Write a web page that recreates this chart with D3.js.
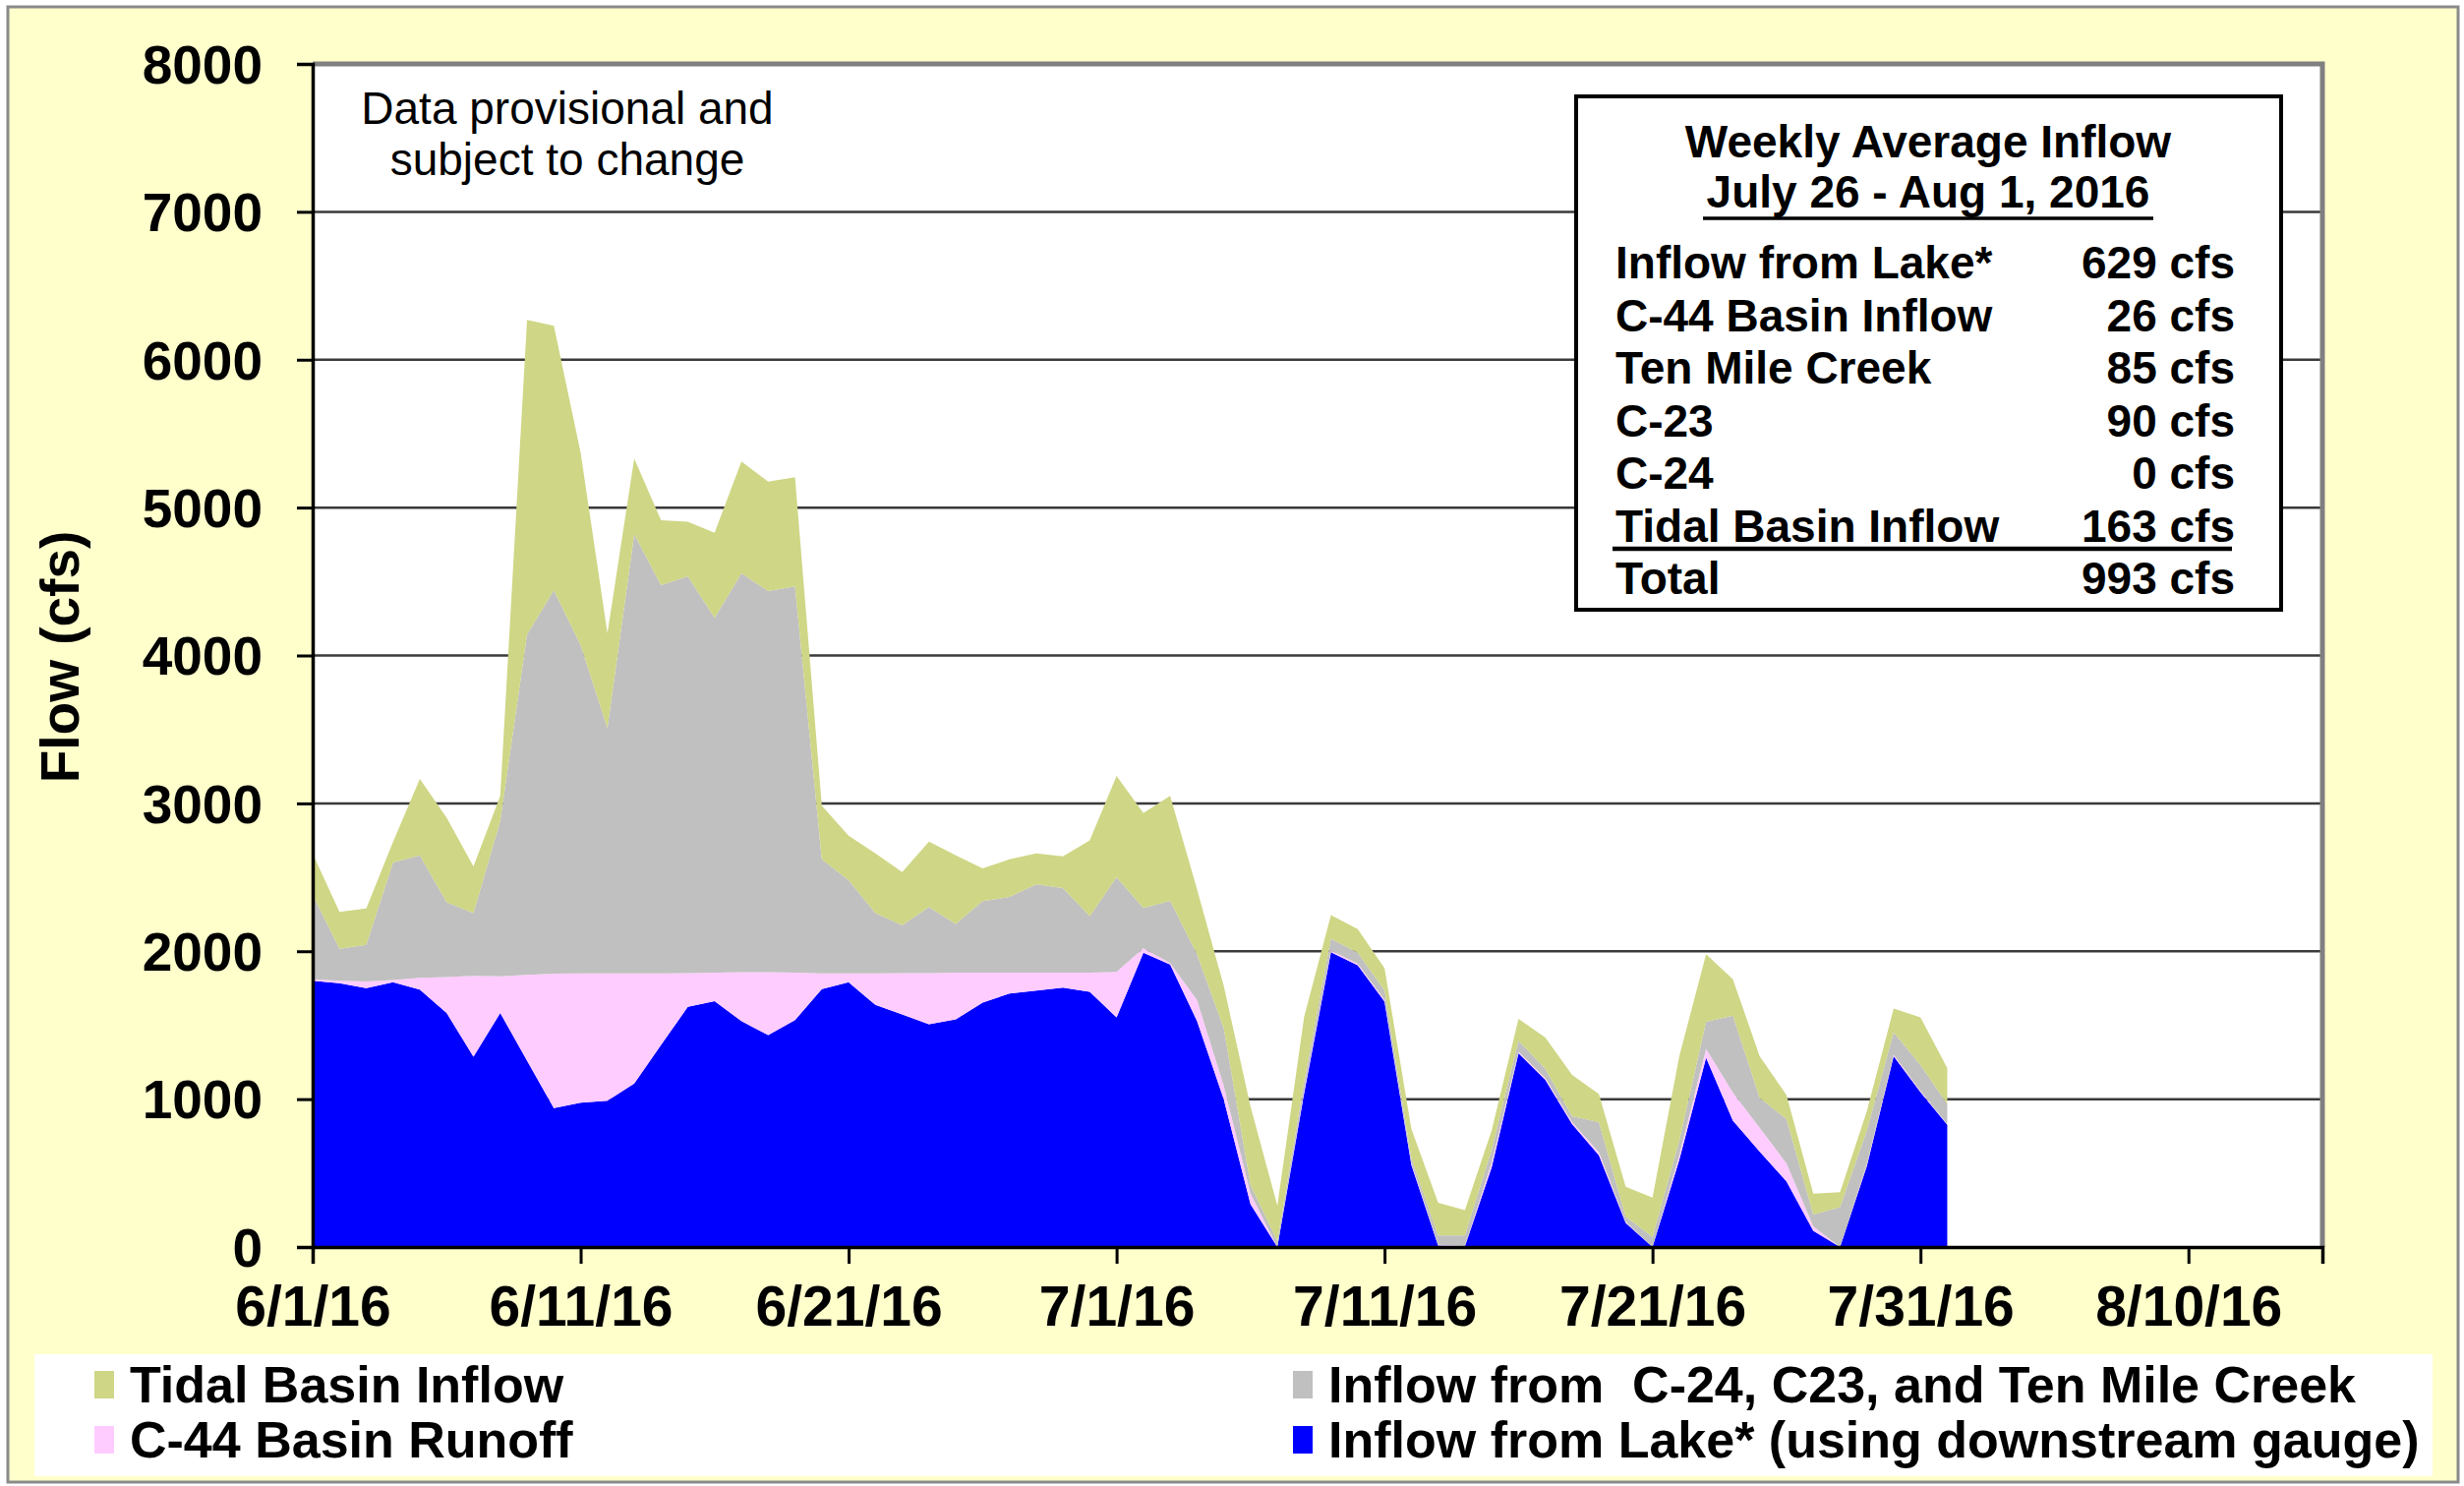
<!DOCTYPE html>
<html>
<head>
<meta charset="utf-8">
<script src="https://cdn.jsdelivr.net/npm/d3@7"></script>
<style>
  html, body { margin: 0; padding: 0; background: #ffffff; }
  svg { display: block; }
  text { font-family: "Liberation Sans", Arial, sans-serif; }
</style>
</head>
<body>
<svg id="chart" width="2506" height="1511"></svg>
<script>
// ---------------- DATA ----------------
const startDate = "2016-06-01";   // first daily value (6/1/16); one value per day through 8/1/16
const axisStart = "2016-06-01";
const axisEnd = "2016-08-15";
const xTickLabels = ["6/1/16", "6/11/16", "6/21/16", "7/1/16", "7/11/16", "7/21/16", "7/31/16", "8/10/16"];
const yTicks = [0, 1000, 2000, 3000, 4000, 5000, 6000, 7000, 8000];

// Inflow from Lake* (using downstream gauge), cfs
const lakeInflow = [1800, 1784, 1751, 1790, 1740, 1583, 1287, 1583, 1260, 940,
  976, 990, 1105, 1366, 1624, 1663, 1528, 1433, 1535, 1744,
  1790, 1637, 1573, 1506, 1540, 1653, 1714, 1734, 1754, 1726,
  1552, 1990, 1910, 1530, 1000, 290, 0, 1040, 1994, 1905,
  1660, 557, 10, 5, 540, 1310, 1130, 832, 620, 163,
  0, 590, 1280, 854, 645, 444, 110, 0, 548, 1290,
  1048, 827];
// C-44 Basin Runoff, cfs
const c44Runoff = [10, 16, 44, 15, 80, 242, 547, 247, 580, 909,
  874, 860, 745, 484, 228, 192, 330, 425, 320, 106,
  60, 213, 279, 346, 315, 202, 141, 121, 101, 129,
  308, 30, 10, 140, 90, 70, 0, 20, 11, 10,
  10, 13, 5, 3, 30, 10, 10, 13, 20, 7,
  0, 30, 60, 190, 161, 121, 30, 0, 12, 10,
  7, 3];
// Inflow from C-24, C23, and Ten Mile Creek, cfs
const otherInflow = [570, 216, 249, 795, 829, 506, 424, 1050, 2302, 2591,
  2220, 1658, 2969, 2626, 2684, 2399, 2698, 2577, 2613, 771,
  630, 408, 325, 448, 330, 484, 512, 597, 572, 383,
  640, 273, 420, 310, 390, 60, 40, 60, 80, 75,
  66, 30, 63, 70, 90, 75, 65, 40, 204, 36,
  68, 100, 183, 521, 202, 302, 80, 270, 230, 152,
  175, 138];
// Tidal Basin Inflow, cfs
const tidalInflow = [280, 250, 246, 140, 516, 572, 315, 170, 2128, 1790,
  1302, 642, 512, 439, 369, 576, 756, 740, 737, 363,
  302, 403, 359, 442, 464, 221, 254, 209, 214, 512,
  685, 642, 710, 440, 285, 530, 240, 436, 160, 160,
  149, 200, 222, 172, 130, 148, 211, 278, 190, 202,
  266, 570, 457, 245, 282, 161, 140, 100, 129, 161,
  322, 242];

const seriesKeys = ["lake", "c44", "other", "tidal"];
const seriesColors = ["#0000FF", "#FFCCFF", "#C0C0C0", "#CFD685"];

const tableTitle = ["Weekly Average Inflow", "July 26 - Aug 1, 2016"];
const tableLabels = ["Inflow from Lake*", "C-44 Basin Inflow", "Ten Mile Creek", "C-23", "C-24", "Tidal Basin Inflow", "Total"];
const tableValues = ["629 cfs", "26 cfs", "85 cfs", "90 cfs", "0 cfs", "163 cfs", "993 cfs"];

const legendItems = [
  { label: "Tidal Basin Inflow", key: "tidal", col: 0, row: 0 },
  { label: "Inflow from  C-24, C23, and Ten Mile Creek", key: "other", col: 1, row: 0 },
  { label: "C-44 Basin Runoff", key: "c44", col: 0, row: 1 },
  { label: "Inflow from Lake* (using downstream gauge)", key: "lake", col: 1, row: 1 }
];

// ---------------- BUILD ----------------
const parse = d3.timeParse("%Y-%m-%d");
const t0 = parse(startDate);
const rows = lakeInflow.map((v, i) => ({
  date: d3.timeDay.offset(t0, i),
  lake: v, c44: c44Runoff[i], other: otherInflow[i], tidal: tidalInflow[i]
}));

const svg = d3.select("#chart");
const W = 2506, H = 1511;
const plot = { left: 318, right: 2362, top: 65, bottom: 1268 };

// outer frame
svg.append("rect").attr("x", 8).attr("y", 7).attr("width", W - 14).attr("height", H - 11)
  .attr("fill", "#FFFFCC").attr("stroke", "#8a8a8a").attr("stroke-width", 3);

// plot background
svg.append("rect").attr("x", plot.left).attr("y", plot.top)
  .attr("width", plot.right - plot.left).attr("height", plot.bottom - plot.top)
  .attr("fill", "#ffffff");

const x = d3.scaleTime().domain([parse(axisStart), parse(axisEnd)]).range([plot.left, plot.right]);
const y = d3.scaleLinear().domain([0, 8000]).range([plot.bottom, plot.top]);

// gridlines
svg.append("g").selectAll("line").data(yTicks.filter(d => d > 0)).join("line")
  .attr("x1", plot.left).attr("x2", plot.right)
  .attr("y1", d => y(d)).attr("y2", d => y(d))
  .attr("stroke", "#3a3a3a").attr("stroke-width", 2.5);

// stacked areas
const stack = d3.stack().keys(seriesKeys).order(d3.stackOrderNone).offset(d3.stackOffsetNone);
const layers = stack(rows);
const area = d3.area().x(d => x(d.data.date)).y0(d => y(d[0])).y1(d => y(d[1])).curve(d3.curveLinear);
svg.append("g").selectAll("path").data(layers).join("path")
  .attr("d", area)
  .attr("fill", (d, i) => seriesColors[i])
  .attr("stroke", "none");

// plot border (top/right shadow style)
svg.append("path")
  .attr("d", `M${plot.left},${plot.top} H${plot.right} V${plot.bottom}`)
  .attr("fill", "none").attr("stroke", "#808080").attr("stroke-width", 5);

// y axis
const yAxis = d3.axisLeft(y).tickValues(yTicks).tickSize(16).tickPadding(35).tickFormat(d3.format("d"));
const gy = svg.append("g").attr("transform", `translate(${plot.left},0)`).call(yAxis);
gy.select(".domain").attr("stroke", "#000").attr("stroke-width", 3.5);
gy.selectAll(".tick line").attr("stroke", "#000").attr("stroke-width", 3);
gy.selectAll(".tick text").attr("font-size", 55).attr("font-weight", "bold")
  .attr("font-family", "'Liberation Sans', Arial, sans-serif").attr("fill", "#000").attr("dy", "0.35em");

// x axis
const xTickDates = xTickLabels.map(s => d3.timeParse("%m/%d/%y")(s));
const xAxis = d3.axisBottom(x).tickValues(xTickDates).tickSize(17).tickPadding(23)
  .tickFormat((d, i) => xTickLabels[i]);
const gx = svg.append("g").attr("transform", `translate(0,${plot.bottom})`).call(xAxis);
gx.select(".domain").attr("stroke", "#000").attr("stroke-width", 3.5);
gx.selectAll(".tick line").attr("stroke", "#000").attr("stroke-width", 3);
gx.selectAll(".tick text").attr("font-size", 57).attr("font-weight", "bold")
  .attr("font-family", "'Liberation Sans', Arial, sans-serif").attr("fill", "#000");

// y axis title
svg.append("text").attr("transform", "translate(61,668) rotate(-90)")
  .attr("text-anchor", "middle").attr("dominant-baseline", "central")
  .attr("font-size", 55).attr("font-weight", "bold").text("Flow (cfs)");

// provisional note
svg.append("g").selectAll("text").data(["Data provisional and", "subject to change"]).join("text")
  .attr("x", 577).attr("y", (d, i) => 110 + i * 52)
  .attr("text-anchor", "middle").attr("dominant-baseline", "central")
  .attr("font-size", 46).text(d => d);

// summary table
const tb = svg.append("g");
tb.append("rect").attr("x", 1603).attr("y", 98).attr("width", 717).attr("height", 522)
  .attr("fill", "#ffffff").attr("stroke", "#000").attr("stroke-width", 4);
tb.selectAll("text.title").data(tableTitle).join("text").attr("class", "title")
  .attr("x", 1961).attr("y", (d, i) => 144 + i * 51)
  .attr("text-anchor", "middle").attr("dominant-baseline", "central")
  .attr("font-size", 46).attr("font-weight", "bold").text(d => d);
tb.append("line").attr("x1", 1732).attr("x2", 2190).attr("y1", 222).attr("y2", 222)
  .attr("stroke", "#000").attr("stroke-width", 3.5);
const rowY = i => 267 + i * 53.5;
tb.selectAll("text.lab").data(tableLabels).join("text").attr("class", "lab")
  .attr("x", 1643).attr("y", (d, i) => rowY(i))
  .attr("dominant-baseline", "central")
  .attr("font-size", 46).attr("font-weight", "bold").text(d => d);
tb.selectAll("text.val").data(tableValues).join("text").attr("class", "val")
  .attr("x", 2273).attr("y", (d, i) => rowY(i))
  .attr("text-anchor", "end").attr("dominant-baseline", "central")
  .attr("font-size", 46).attr("font-weight", "bold").text(d => d);
tb.append("line").attr("x1", 1640).attr("x2", 2270).attr("y1", 558).attr("y2", 558)
  .attr("stroke", "#000").attr("stroke-width", 4.5);

// legend
const lg = svg.append("g");
lg.append("rect").attr("x", 35).attr("y", 1377).attr("width", 2439).attr("height", 124).attr("fill", "#ffffff");
const colX = [96, 1315];
const rowLY = [1408, 1464];
const li = lg.selectAll("g.item").data(legendItems).join("g").attr("class", "item");
li.append("rect")
  .attr("x", d => colX[d.col]).attr("y", d => rowLY[d.row] - 14)
  .attr("width", 20).attr("height", 28)
  .attr("fill", d => seriesColors[seriesKeys.indexOf(d.key)]);
li.append("text")
  .attr("x", d => colX[d.col] + 36).attr("y", d => rowLY[d.row])
  .attr("dominant-baseline", "central").style("white-space", "pre")
  .attr("font-size", 52).attr("font-weight", "bold").text(d => d.label);
</script>
</body>
</html>
